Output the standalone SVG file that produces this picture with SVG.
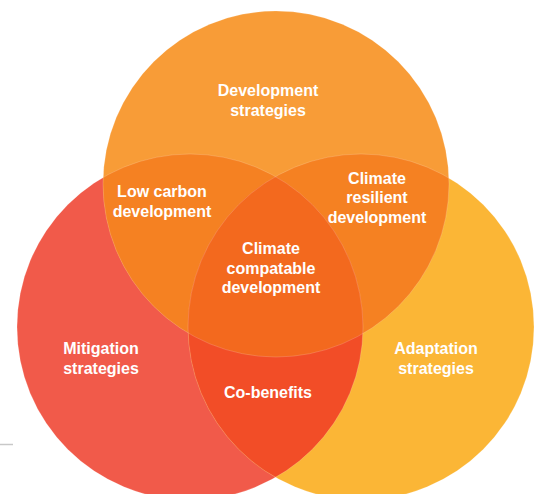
<svg xmlns="http://www.w3.org/2000/svg" width="538" height="494" viewBox="0 0 538 494">
  <style>
    .lbl { font-family: "Liberation Sans", Arial, sans-serif; font-weight: bold; font-size: 16px; fill: #FFFFFF; text-anchor: middle; }
    .edge { fill: none; stroke: #FFFFFF; stroke-opacity: 0.22; stroke-width: 0.8; }
  </style>
  <defs>
    <clipPath id="cT"><circle cx="276" cy="184" r="173"/></clipPath>
    <clipPath id="cL"><circle cx="190" cy="327" r="173"/></clipPath>
    <clipPath id="cR"><circle cx="361" cy="327" r="173"/></clipPath>
  </defs>
  <rect width="538" height="494" fill="#FFFFFF"/>
  <line x1="0" y1="444.5" x2="13" y2="444.5" stroke="#C8C8C8" stroke-width="1.5"/>

  <g id="mitigation">
    <circle cx="190" cy="327" r="173" fill="#F15A4A"/>
  </g>
  <g id="adaptation">
    <circle cx="361" cy="327" r="173" fill="#FBB636"/>
  </g>
  <g id="development">
    <circle cx="276" cy="184" r="173" fill="#F89C37"/>
  </g>
  <g id="low-carbon">
    <circle cx="190" cy="327" r="173" fill="#F58122" clip-path="url(#cT)"/>
  </g>
  <g id="climate-resilient">
    <circle cx="361" cy="327" r="173" fill="#F58122" clip-path="url(#cT)"/>
  </g>
  <g id="co-benefits">
    <circle cx="361" cy="327" r="173" fill="#F24D27" clip-path="url(#cL)"/>
  </g>
  <g id="climate-compatible">
    <g clip-path="url(#cT)">
      <circle cx="361" cy="327" r="173" fill="#F3691E" clip-path="url(#cL)"/>
    </g>
  </g>

  <g id="edges">
    <circle class="edge" cx="276" cy="184" r="173"/>
    <circle class="edge" cx="190" cy="327" r="173"/>
    <circle class="edge" cx="361" cy="327" r="173"/>
  </g>

  <g id="labels">
    <text class="lbl" x="268" y="96">Development</text>
    <text class="lbl" x="268" y="115.5">strategies</text>

    <text class="lbl" x="162" y="197">Low carbon</text>
    <text class="lbl" x="162" y="216.5">development</text>

    <text class="lbl" x="377" y="183.5">Climate</text>
    <text class="lbl" x="377" y="203">resilient</text>
    <text class="lbl" x="377" y="222.5">development</text>

    <text class="lbl" x="271" y="254">Climate</text>
    <text class="lbl" x="271" y="273.5">compatable</text>
    <text class="lbl" x="271" y="293">development</text>

    <text class="lbl" x="101" y="354">Mitigation</text>
    <text class="lbl" x="101" y="373.5">strategies</text>

    <text class="lbl" x="436" y="354">Adaptation</text>
    <text class="lbl" x="436" y="373.5">strategies</text>

    <text class="lbl" x="268" y="398">Co-benefits</text>
  </g>
</svg>
